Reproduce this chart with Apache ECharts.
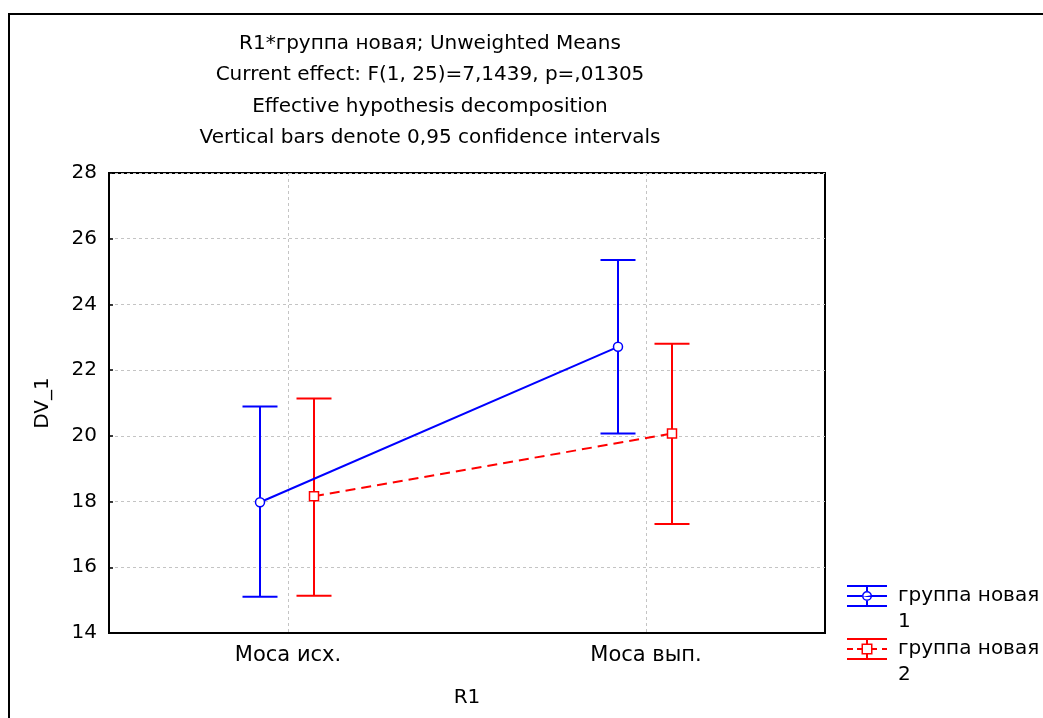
<!DOCTYPE html>
<html>
<head>
<meta charset="utf-8">
<script src="https://cdn.jsdelivr.net/npm/echarts@6/dist/echarts.min.js"></script>
<style>
  html, body { margin: 0; padding: 0; background: #fff; }
  #chart { width: 1043px; height: 718px; }
</style>
</head>
<body>
<div id="chart"></div>
<script>
// data
const categories = ['Моса исх.', 'Моса вып.'];
const seriesNames = ['группа новая\n1', 'группа новая\n2'];
const means1 = [17.98, 22.71];
const lows1 = [15.10, 20.07];
const highs1 = [20.89, 25.35];
const means2 = [18.16, 20.07];
const lows2 = [15.13, 17.32];
const highs2 = [21.14, 22.80];
const yTicks = [14, 16, 18, 20, 22, 24, 26, 28];
const titleLines = [
  'R1*группа новая; Unweighted Means',
  'Current effect: F(1, 25)=7,1439, p=,01305',
  'Effective hypothesis decomposition',
  'Vertical bars denote 0,95 confidence intervals'
];

const FONT = 'DejaVu Sans';

// legend glyphs: error bar with marker (filled sub-paths, ring by opposite winding)
const iconBlue = 'path://M0 0h40v2h-40z M0 20h40v2h-40z M19 2h2v4h-2z M19 16h2v4h-2z M0 10h15v2h-15z M25 10h15v2h-25z' +
  ' M15 11a5 5 0 1 1 10 0a5 5 0 1 1 -10 0z M16.5 11a3.5 3.5 0 1 0 7 0a3.5 3.5 0 1 0 -7 0z';
const iconRed = 'path://M0 0h40v2h-40z M0 20h40v2h-40z M19 2h2v4h-2z M19 16h2v4h-2z M0 10h6v2h-6z M10 10h5v2h-5z M25 10h5v2h-5z M35 10h5v2h-5z' +
  ' M14.5 5.5h11v11h-11z M16 7v8h8v-8z';

function makeRender(means, lows, highs, offset, marker, dashed, color) {
  return function (params, api) {
    const i = params.dataIndex;
    const p = api.coord([i, means[i]]);
    const lo = api.coord([i, lows[i]]);
    const hi = api.coord([i, highs[i]]);
    const x = p[0] + offset;
    const cap = 17.5;
    const children = [];
    if (i + 1 < means.length) {
      const q = api.coord([i + 1, means[i + 1]]);
      children.push({
        type: 'line',
        shape: { x1: x, y1: p[1], x2: q[0] + offset, y2: q[1] },
        style: { stroke: color, lineWidth: 2, lineDash: dashed ? [10, 6] : null }
      });
    }
    children.push(
      { type: 'line', shape: { x1: x, y1: lo[1], x2: x, y2: hi[1] }, style: { stroke: color, lineWidth: 2 } },
      { type: 'line', shape: { x1: x - cap, y1: hi[1], x2: x + cap, y2: hi[1] }, style: { stroke: color, lineWidth: 2 } },
      { type: 'line', shape: { x1: x - cap, y1: lo[1], x2: x + cap, y2: lo[1] }, style: { stroke: color, lineWidth: 2 } }
    );
    if (marker === 'circle') {
      children.push({ type: 'circle', shape: { cx: x, cy: p[1], r: 4.5 }, style: { fill: '#fff', stroke: color, lineWidth: 1.5 } });
    } else {
      children.push({ type: 'rect', shape: { x: x - 4.5, y: p[1] - 4.5, width: 9, height: 9 }, style: { fill: '#fff', stroke: color, lineWidth: 1.5 } });
    }
    return { type: 'group', children: children };
  };
}

const chart = echarts.init(document.getElementById('chart'));

const option = {
  animation: false,
  textStyle: { fontFamily: FONT },
  title: {
    text: titleLines.join('\n'),
    left: 430,
    top: 28,
    padding: 0,
    textAlign: 'center',
    textStyle: { fontFamily: FONT, fontSize: 20, fontWeight: 'normal', color: '#000', lineHeight: 31.5 }
  },
  graphic: [{
    type: 'rect',
    shape: { x: 9, y: 14, width: 1100, height: 800 },
    style: { fill: 'none', stroke: '#000', lineWidth: 2 },
    silent: true
  }],
  legend: {
    orient: 'vertical',
    left: 847,
    top: 557,
    padding: 0,
    itemWidth: 40,
    itemHeight: 22,
    itemGap: -25,
    itemStyle: { borderWidth: 0 },
    // leading empty line puts the first text line level with the glyph
    formatter: name => '\n' + name,
    textStyle: { fontFamily: FONT, fontSize: 20, color: '#000', lineHeight: 26, padding: [0, 0, 0, 6] },
    data: [
      { name: seriesNames[0], icon: iconBlue },
      { name: seriesNames[1], icon: iconRed }
    ]
  },
  grid: {
    left: 109, right: 218, top: 173, bottom: 85,
    show: true, borderColor: '#000', borderWidth: 2, backgroundColor: 'transparent'
  },
  xAxis: {
    type: 'category',
    data: categories,
    name: 'R1',
    nameLocation: 'middle',
    nameGap: 55,
    nameTextStyle: { fontFamily: FONT, fontSize: 20, color: '#000' },
    axisLine: { lineStyle: { color: '#000', width: 2 } },
    axisTick: { inside: true, alignWithLabel: true, length: 4, lineStyle: { color: '#000', width: 1.5 } },
    axisLabel: { fontFamily: FONT, fontSize: 21, color: '#000', margin: 12 },
    splitLine: { show: true, alignWithLabel: true, lineStyle: { color: '#c4c4c4', type: [3, 3], width: 1 } }
  },
  yAxis: {
    type: 'value',
    min: yTicks[0],
    max: yTicks[yTicks.length - 1],
    interval: yTicks[1] - yTicks[0],
    name: 'DV_1',
    nameLocation: 'middle',
    nameGap: 56,
    nameTextStyle: { fontFamily: FONT, fontSize: 20, color: '#000' },
    axisLine: { show: true, lineStyle: { color: '#000', width: 2 } },
    axisTick: { show: true, inside: true, length: 4, lineStyle: { color: '#000', width: 1.5 } },
    axisLabel: { fontFamily: FONT, fontSize: 20, color: '#000', margin: 12 },
    splitLine: { show: true, lineStyle: { color: '#c4c4c4', type: [3, 3], width: 1 } }
  },
  series: [
    {
      name: seriesNames[0],
      type: 'custom',
      itemStyle: { color: '#0000ff' },
      renderItem: makeRender(means1, lows1, highs1, -28, 'circle', false, '#0000ff'),
      data: categories.map((c, i) => [i, means1[i], lows1[i], highs1[i]]),
      z: 3
    },
    {
      name: seriesNames[1],
      type: 'custom',
      itemStyle: { color: '#ff0000' },
      renderItem: makeRender(means2, lows2, highs2, 26, 'square', true, '#ff0000'),
      data: categories.map((c, i) => [i, means2[i], lows2[i], highs2[i]]),
      z: 2
    }
  ]
};

chart.setOption(option);
</script>
</body>
</html>
